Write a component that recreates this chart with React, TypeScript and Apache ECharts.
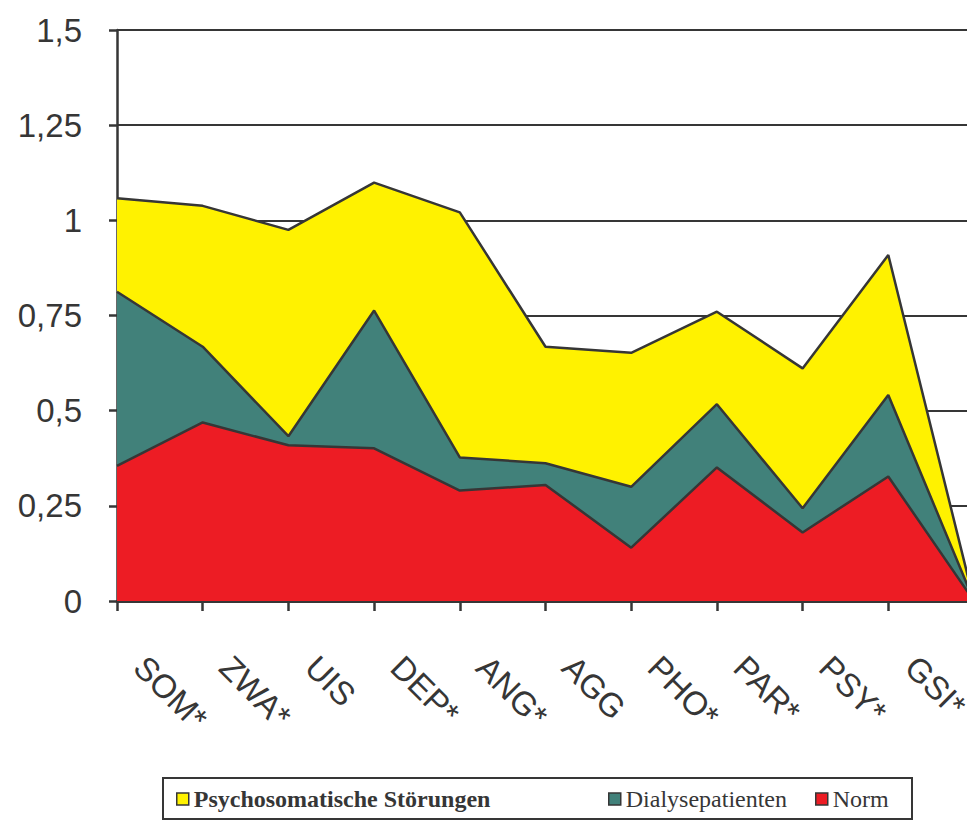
import React, { useEffect, useRef } from "react";
import * as echarts from "echarts";

const categories = ["SOM*", "ZWA*", "UIS", "DEP*", "ANG*", "AGG", "PHO*", "PAR*", "PSY*", "GSI*", ""];
const psychosomatisch = [1.058, 1.038, 0.975, 1.099, 1.021, 0.668, 0.652, 0.76, 0.611, 0.909, 0.0];
const dialyse = [0.8125, 0.668, 0.433, 0.763, 0.377, 0.362, 0.3, 0.517, 0.2435, 0.541, 0.0];
const norm = [0.355, 0.469, 0.409, 0.401, 0.29, 0.305, 0.14, 0.351, 0.18, 0.327, 0.0];
const seriesNames = ["Psychosomatische Störungen", "Dialysepatienten", "Norm"];
const yTicks = [0, 0.25, 0.5, 0.75, 1, 1.25, 1.5];

const DARK = "#363636";
const COLORS = ["#FFF200", "#41817A", "#ED1C24"];
const LEGEND_LEFTS = [176, 608, 815];

export default function App() {
  const ref = useRef<HTMLDivElement>(null);
  useEffect(() => {
    if (!ref.current) return;
    const chart = echarts.init(ref.current, null, { renderer: "svg" });
    const data = [psychosomatisch, dialyse, norm];
    const serif = "Liberation Serif, Times New Roman, serif";
    chart.setOption({
      animation: false,
      backgroundColor: "#ffffff",
      grid: { left: 117, top: 30, bottom: 220, right: 16, containLabel: false },
      graphic: [
        {
          type: "rect",
          shape: { x: 163, y: 778, width: 749, height: 41 },
          style: { fill: "none", stroke: DARK, lineWidth: 2 },
          z: 0,
        },
      ],
      legend: seriesNames.map((name, i) => ({
        left: LEGEND_LEFTS[i],
        top: 787,
        orient: "horizontal",
        icon: "rect",
        itemWidth: 12,
        itemHeight: 12,
        padding: 0,
        itemStyle: { borderColor: DARK, borderWidth: 1.5 },
        data: [name],
        textStyle: {
          fontFamily: serif,
          fontSize: i === 0 ? 24 : 24,
          fontWeight: i === 0 ? "bold" : "normal",
          color: DARK,
        },
      })),
      xAxis: {
        type: "category",
        data: categories,
        boundaryGap: false,
        axisLine: { show: true, lineStyle: { color: DARK, width: 3 } },
        axisTick: { show: true, length: 10, lineStyle: { color: DARK, width: 2.5 } },
        axisLabel: {
          rotate: -45,
          margin: 38,
          padding: [0, 0, 0, 32],
          interval: 0,
          fontSize: 33,
          color: DARK,
          fontFamily: "Liberation Sans, Arial, sans-serif",
        },
        splitLine: { show: false },
      },
      yAxis: {
        type: "value",
        min: yTicks[0],
        max: yTicks[yTicks.length - 1],
        interval: 0.25,
        axisLine: { show: true, lineStyle: { color: DARK, width: 2.5 } },
        axisTick: { show: true, length: 8, lineStyle: { color: DARK, width: 2.5 } },
        axisLabel: {
          margin: 35,
          fontSize: 33,
          color: DARK,
          fontFamily: "Liberation Sans, Arial, sans-serif",
          formatter: (v: number) => String(v).replace(".", ","),
        },
        splitLine: { show: true, lineStyle: { color: DARK, width: 2 } },
      },
      series: seriesNames.map((name, i) => ({
        name,
        type: "line",
        data: data[i],
        symbol: "none",
        z: 2 + i,
        itemStyle: { color: COLORS[i] },
        lineStyle: { color: DARK, width: 2.5 },
        areaStyle: { color: COLORS[i], opacity: 1 },
      })),
    });
    return () => chart.dispose();
  }, []);
  return (
    <div style={{ position: "absolute", left: 0, top: 0, width: 967, height: 821, overflow: "hidden", background: "#fff" }}>
      <div ref={ref} style={{ width: 990, height: 821 }} />
    </div>
  );
}
